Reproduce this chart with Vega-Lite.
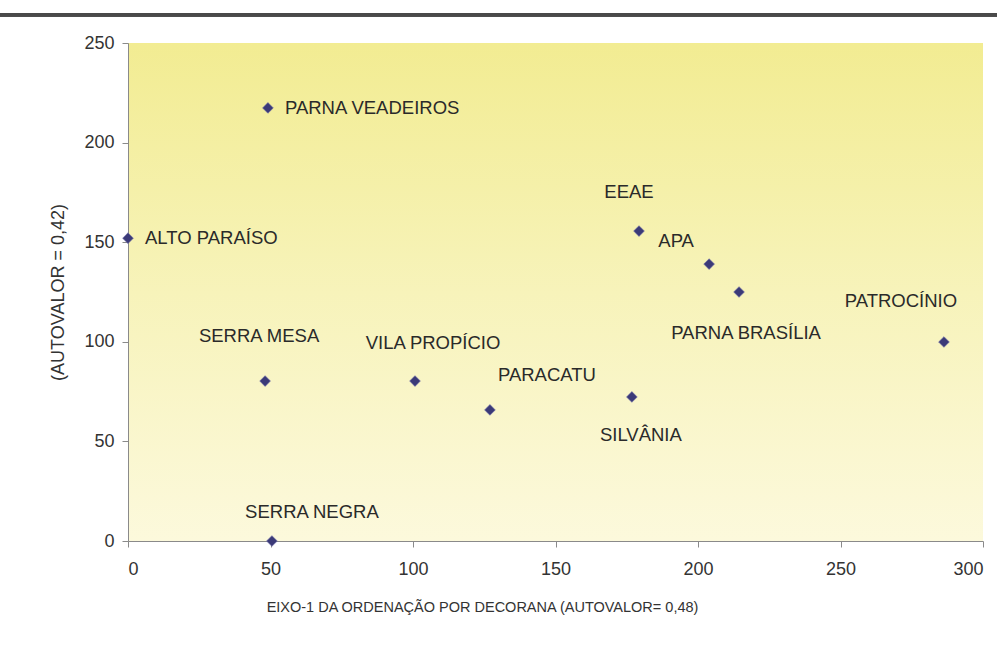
{
  "$schema": "https://vega.github.io/schema/vega-lite/v6.json",
  "autosize": "none",
  "width": 855,
  "height": 498,
  "padding": {"left": 128, "top": 43, "right": 14, "bottom": 107},
  "background": "#ffffff",
  "config": {
    "font": "Liberation Sans",
    "view": {
      "stroke": null,
      "fill": {"gradient": "linear", "x1": 0.5, "y1": 0, "x2": 0.5, "y2": 1,
        "stops": [{"offset": 0, "color": "#f2ec92"}, {"offset": 0.5, "color": "#f7f3ba"}, {"offset": 1, "color": "#fcf9dc"}]}
    },
    "axis": {
      "domainColor": "#8a8a8a", "tickColor": "#8a8a8a", "grid": false,
      "labelFont": "Liberation Sans", "labelFontSize": 18, "labelColor": "#333333",
      "titleFont": "Liberation Sans", "titleFontSize": 18, "titleFontWeight": "normal", "titleColor": "#333333",
      "tickSize": 6
    }
  },
  "data": {"values": [
    {"site": "PARNA VEADEIROS", "x": 49.1, "y": 217.4},
    {"site": "ALTO PARAÍSO", "x": 0, "y": 152},
    {"site": "EEAE", "x": 179.3, "y": 155.6},
    {"site": "APA", "x": 203.9, "y": 139},
    {"site": "PARNA BRASÍLIA", "x": 214.4, "y": 125},
    {"site": "PATROCÍNIO", "x": 286.3, "y": 99.9},
    {"site": "SERRA MESA", "x": 48.1, "y": 80.3},
    {"site": "VILA PROPÍCIO", "x": 100.7, "y": 80.3},
    {"site": "PARACATU", "x": 127, "y": 65.8},
    {"site": "SILVÂNIA", "x": 176.8, "y": 72.3},
    {"site": "SERRA NEGRA", "x": 50.5, "y": 0}
  ]},
  "encoding": {
    "x": {"field": "x", "type": "quantitative",
      "scale": {"domain": [0, 300], "nice": false, "zero": false},
      "axis": {"values": [0, 50, 100, 150, 200, 250, 300], "labelPadding": 13,
        "title": "EIXO-1 DA ORDENAÇÃO POR DECORANA (AUTOVALOR= 0,48)",
        "titleFontSize": 14.5,
        "titleX": 354, "titleY": 59, "titleAlign": "center", "titleBaseline": "top"}},
    "y": {"field": "y", "type": "quantitative",
      "scale": {"domain": [0, 250], "nice": false, "zero": false},
      "axis": {"values": [0, 50, 100, 150, 200, 250], "labelPadding": 8,
        "title": "(AUTOVALOR = 0,42)", "titlePadding": 16}}
  },
  "layer": [
    {"mark": {"type": "rule", "color": "#4a4a4a", "strokeWidth": 3, "clip": false},
      "encoding": {"x": {"datum": -45}, "x2": {"datum": 305}, "y": {"datum": 264.2}}},
    {"mark": {"type": "point", "shape": "diamond", "filled": true, "size": 115, "color": "#3b3a78", "opacity": 1, "stroke": "#6b6aa8", "strokeWidth": 0.6}},
    {"transform": [{"filter": "datum.site === 'PARNA VEADEIROS' || datum.site === 'ALTO PARAÍSO'"}],
      "mark": {"type": "text", "align": "left", "baseline": "middle", "dx": 17, "fontSize": 18.5, "color": "#2a2a2a"},
      "encoding": {"text": {"field": "site"}}},
    {"transform": [{"filter": "datum.site === 'EEAE'"}],
      "mark": {"type": "text", "align": "center", "baseline": "middle", "dx": -10, "dy": -39, "fontSize": 18.5, "color": "#2a2a2a"},
      "encoding": {"text": {"field": "site"}}},
    {"transform": [{"filter": "datum.site === 'APA'"}],
      "mark": {"type": "text", "align": "center", "baseline": "middle", "dx": -33, "dy": -23, "fontSize": 18.5, "color": "#2a2a2a"},
      "encoding": {"text": {"field": "site"}}},
    {"transform": [{"filter": "datum.site === 'PARNA BRASÍLIA'"}],
      "mark": {"type": "text", "align": "center", "baseline": "middle", "dx": 7, "dy": 41, "fontSize": 18.5, "color": "#2a2a2a"},
      "encoding": {"text": {"field": "site"}}},
    {"transform": [{"filter": "datum.site === 'PATROCÍNIO'"}],
      "mark": {"type": "text", "align": "center", "baseline": "middle", "dx": -43, "dy": -41, "fontSize": 18.5, "color": "#2a2a2a"},
      "encoding": {"text": {"field": "site"}}},
    {"transform": [{"filter": "datum.site === 'SERRA MESA'"}],
      "mark": {"type": "text", "align": "center", "baseline": "middle", "dx": -6, "dy": -45, "fontSize": 18.5, "color": "#2a2a2a"},
      "encoding": {"text": {"field": "site"}}},
    {"transform": [{"filter": "datum.site === 'VILA PROPÍCIO'"}],
      "mark": {"type": "text", "align": "center", "baseline": "middle", "dx": 18, "dy": -38, "fontSize": 18.5, "color": "#2a2a2a"},
      "encoding": {"text": {"field": "site"}}},
    {"transform": [{"filter": "datum.site === 'PARACATU'"}],
      "mark": {"type": "text", "align": "center", "baseline": "middle", "dx": 57, "dy": -35, "fontSize": 18.5, "color": "#2a2a2a"},
      "encoding": {"text": {"field": "site"}}},
    {"transform": [{"filter": "datum.site === 'SILVÂNIA'"}],
      "mark": {"type": "text", "align": "center", "baseline": "middle", "dx": 9, "dy": 38, "fontSize": 18.5, "color": "#2a2a2a"},
      "encoding": {"text": {"field": "site"}}},
    {"transform": [{"filter": "datum.site === 'SERRA NEGRA'"}],
      "mark": {"type": "text", "align": "center", "baseline": "middle", "dx": 40, "dy": -29, "fontSize": 18.5, "color": "#2a2a2a"},
      "encoding": {"text": {"field": "site"}}}
  ]
}
